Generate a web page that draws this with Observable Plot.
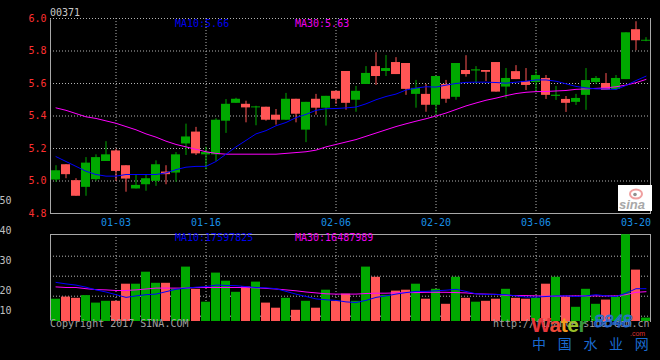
<!DOCTYPE html>
<html>
<head>
<meta charset="utf-8">
<script src="https://cdn.jsdelivr.net/npm/d3@7"></script>
<script src="https://cdn.jsdelivr.net/npm/@observablehq/plot@0.6"></script>
<style>
  html, body { margin: 0; padding: 0; background: #000; }
  #wrap { position: relative; width: 660px; height: 360px; background: #000; overflow: hidden; }
  #wrap svg { position: absolute; left: 0; top: 0; }
</style>
</head>
<body>
<div id="wrap"></div>
<script>
// ---------- data ----------
const dates = [
  "2016-12-21","2016-12-22","2016-12-23","2016-12-28","2016-12-29","2016-12-30",
  "2017-01-03","2017-01-04","2017-01-05","2017-01-06","2017-01-09","2017-01-10",
  "2017-01-11","2017-01-12","2017-01-13","2017-01-16","2017-01-17","2017-01-18",
  "2017-01-19","2017-01-20","2017-01-23","2017-01-24","2017-01-25","2017-01-26",
  "2017-01-27","2017-02-01","2017-02-02","2017-02-03","2017-02-06","2017-02-07",
  "2017-02-08","2017-02-09","2017-02-10","2017-02-13","2017-02-14","2017-02-15",
  "2017-02-16","2017-02-17","2017-02-20","2017-02-21","2017-02-22","2017-02-23",
  "2017-02-24","2017-02-27","2017-02-28","2017-03-01","2017-03-02","2017-03-03",
  "2017-03-06","2017-03-07","2017-03-08","2017-03-09","2017-03-10","2017-03-13",
  "2017-03-14","2017-03-15","2017-03-16","2017-03-17","2017-03-20","2017-03-21"
];
const open = [
  5.063,5.039,4.906,5.110,5.144,5.161,5.059,5.012,4.973,5.014,
  5.100,5.039,5.161,5.271,5.167,5.175,5.374,5.472,5.503,5.450,
  5.456,5.374,5.374,5.503,5.411,5.484,5.448,5.521,5.503,5.478,
  5.552,5.662,5.643,5.692,5.655,5.564,5.570,5.466,5.643,5.503,
  5.723,5.655,5.684,5.669,5.547,5.631,5.624,5.588,5.649,5.527,
  5.528,5.478,5.508,5.618,5.631,5.557,5.631,5.912,5.863,5.866
];
const close = [
  5.006,5.100,5.002,4.961,5.008,5.120,5.185,5.094,4.951,4.977,
  4.998,5.055,5.049,5.228,5.301,5.161,5.161,5.368,5.478,5.472,
  5.450,5.454,5.405,5.374,5.503,5.313,5.503,5.448,5.552,5.674,
  5.497,5.594,5.704,5.674,5.729,5.723,5.533,5.533,5.466,5.594,
  5.515,5.680,5.677,5.680,5.729,5.578,5.673,5.612,5.606,5.631,
  5.521,5.502,5.484,5.527,5.606,5.600,5.563,5.624,5.931,5.860
];
const high = [
  5.094,5.100,5.014,5.144,5.161,5.242,5.195,5.094,5.034,5.034,
  5.124,5.094,5.175,5.350,5.330,5.208,5.383,5.501,5.509,5.491,
  5.460,5.454,5.440,5.539,5.503,5.484,5.533,5.521,5.552,5.674,
  5.582,5.704,5.790,5.772,5.759,5.723,5.619,5.594,5.643,5.619,
  5.723,5.771,5.704,5.680,5.729,5.692,5.710,5.692,5.680,5.649,
  5.582,5.520,5.533,5.692,5.643,5.661,5.649,5.912,5.980,5.882
];
const low = [
  4.992,5.014,4.906,4.906,4.998,5.120,4.998,4.931,4.951,4.937,
  4.967,4.977,4.992,5.157,5.157,5.069,5.120,5.293,5.478,5.358,
  5.340,5.368,5.344,5.374,5.358,5.236,5.405,5.338,5.472,5.436,
  5.423,5.594,5.588,5.643,5.655,5.527,5.448,5.423,5.411,5.478,
  5.497,5.639,5.598,5.612,5.547,5.506,5.624,5.557,5.551,5.502,
  5.496,5.422,5.465,5.435,5.594,5.557,5.557,5.624,5.802,5.857
];
const ma10 = [
  5.15,5.12,5.09,5.06,5.04,5.03,5.03,5.04,5.04,5.04,
  5.04,5.05,5.07,5.085,5.09,5.09,5.12,5.165,5.21,5.25,
  5.29,5.31,5.34,5.36,5.39,5.41,5.435,5.445,5.446,5.45,
  5.455,5.475,5.50,5.52,5.535,5.56,5.572,5.58,5.578,5.59,
  5.60,5.607,5.608,5.608,5.606,5.602,5.608,5.614,5.622,5.622,
  5.614,5.598,5.582,5.573,5.567,5.566,5.563,5.588,5.618,5.645
];
const ma30 = [
  5.45,5.435,5.415,5.395,5.385,5.37,5.355,5.335,5.315,5.29,
  5.27,5.245,5.225,5.21,5.195,5.18,5.17,5.165,5.165,5.165,
  5.165,5.165,5.165,5.17,5.175,5.18,5.19,5.21,5.225,5.24,
  5.255,5.275,5.295,5.315,5.335,5.352,5.368,5.383,5.40,5.418,
  5.44,5.462,5.48,5.497,5.51,5.525,5.538,5.546,5.55,5.551,
  5.554,5.557,5.564,5.567,5.57,5.573,5.58,5.59,5.605,5.625
];
const volume = [
  17.1,17.8,17.4,18.3,15.8,16.4,16.4,22.1,22.1,26.1,
  22.4,22.4,20.4,27.8,20.4,16.1,25.8,23.1,19.4,21.2,
  22.8,15.8,14.1,17.4,13.4,16.4,14.1,20.1,16.4,18.8,
  16.4,27.8,24.4,18.4,19.8,20.1,22.1,17.1,20.4,15.4,
  24.4,17.4,16.1,16.4,17.1,20.4,17.4,17.1,17.4,22.1,
  24.4,17.8,14.4,20.4,15.4,16.8,17.8,38.6,26.8,10.8
];
const volMA10 = [
  22.7,22.2,21.8,21.1,20.2,19.5,18.6,17.7,18.2,18.6,
  18.8,19.6,20.4,20.8,21.1,21.3,21.8,21.7,21.6,21.3,
  21.0,20.9,20.6,19.7,18.8,18.0,17.2,16.9,16.7,16.2,
  16.0,16.7,17.7,18.2,18.8,19.3,19.7,19.7,19.9,20.1,
  20.4,19.7,18.9,18.7,18.7,18.6,18.2,17.8,17.8,18.0,
  18.2,18.2,18.0,18.2,18.6,18.2,18.0,19.1,20.6,20.6
];
const volMA30 = [
  21.2,21.0,21.0,20.6,20.3,20.2,20.0,20.0,20.2,20.5,
  20.8,20.8,20.8,20.8,21.0,21.0,21.0,21.0,21.0,21.0,
  20.9,20.7,20.5,20.2,19.9,19.5,19.2,18.9,18.8,18.8,
  18.8,19.0,19.1,19.1,19.2,19.3,19.3,19.4,19.4,19.4,
  19.3,19.2,18.9,18.8,18.7,18.4,18.3,18.3,18.2,18.1,
  18.1,18.2,18.2,18.2,18.2,18.2,18.2,18.6,19.4,19.6
];
const tickDates = ["2017-01-03","2017-01-16","2017-02-06","2017-02-20","2017-03-06","2017-03-20"];
const gridDates = ["2017-01-03","2017-01-16","2017-02-06","2017-02-20","2017-03-06"];
const priceTicks = [4.8, 5.0, 5.2, 5.4, 5.6, 5.8, 6.0];
const priceGrid = [5.0, 5.2, 5.4, 5.6, 5.8, 6.0];
const volTicks = [20, 30, 40, 50];
const volLowTick = [10];
const stockCode = "00371";
const priceMALabels = ["MA10:5.66", "MA30:5.63"];
const volMALabels = ["MA10:17597825", "MA30:16487989"];
const copyrightText = "Copyright 2017 SINA.COM";
const urlText = "http://finance.sina.com.cn";

// ---------- build ----------
const UP = "#ff5555", DOWN = "#00a800", GRID = "#b4b4b4", BORDER = "#a8a8a8";
const MONO = "DejaVu Sans Mono, monospace";
const rows = dates.map((d, i) => ({
  date: d, open: open[i], close: close[i], high: high[i], low: low[i],
  ma10: ma10[i], ma30: ma30[i], vol: volume[i], vma10: volMA10[i], vma30: volMA30[i],
  up: close[i] >= open[i]
}));
const colorOf = d => d.up ? UP : DOWN;
const xScale = {type: "band", domain: dates, paddingInner: 0.1, paddingOuter: 0.05};
const baseStyle = {background: "transparent", color: "#c0c0c0", fontFamily: MONO, fontSize: "10px", overflow: "visible"};

const pricePlot = Plot.plot({
  width: 660, height: 360,
  marginTop: 18, marginBottom: 147, marginLeft: 50, marginRight: 10,
  style: baseStyle,
  x: xScale,
  y: {domain: [4.8, 6.0]},
  marks: [
    Plot.frame({stroke: BORDER}),
    Plot.ruleY([6.0], {stroke: "#000", strokeWidth: 1.5}),
    Plot.ruleY(priceGrid, {stroke: GRID, strokeDasharray: "1,2"}),
    Plot.ruleX(gridDates, {stroke: GRID, strokeDasharray: "1,2"}),
    Plot.ruleX(rows, {x: "date", y1: "low", y2: "high", stroke: colorOf, strokeWidth: 1}),
    Plot.barY(rows, {x: "date", y1: "open", y2: "close", fill: colorOf}),
    Plot.lineY(rows, {x: "date", y: "ma30", stroke: "#ff00ff", strokeWidth: 1}),
    Plot.lineY(rows, {x: "date", y: "ma10", stroke: "#0000ff", strokeWidth: 1}),
    Plot.axisY({ticks: priceTicks, tickSize: 0, tickPadding: 4, tickFormat: d => d.toFixed(1),
      fill: "#ff3030", fontFamily: MONO, fontSize: 10, label: null}),
    Plot.axisX({ticks: tickDates, tickSize: 0, tickPadding: 5, tickFormat: d => d.slice(5),
      fill: "#1890e8", fontFamily: MONO, fontSize: 10, label: null})
  ]
});

const volLo = (350 - 321) / 3, volHi = (350 - 234) / 3;
const volGrid = d3.range(4).map(k => volHi - (21.7 + 20 * k) / 3);

const volPlot = Plot.plot({
  width: 660, height: 360,
  marginTop: 234, marginBottom: 39, marginLeft: 50, marginRight: 10,
  style: baseStyle,
  x: xScale,
  y: {domain: [volLo, volHi]},
  marks: [
    Plot.frame({stroke: BORDER}),
    Plot.ruleY([volLo], {stroke: "#000", strokeWidth: 2}),
    Plot.ruleY(volGrid, {stroke: GRID, strokeDasharray: "1,2"}),
    Plot.ruleX(gridDates, {stroke: GRID, strokeDasharray: "1,2"}),
    Plot.barY(rows, {x: "date", y1: volLo, y2: "vol", fill: colorOf}),
    Plot.lineY(rows, {x: "date", y: "vma30", stroke: "#ff00ff", strokeWidth: 1}),
    Plot.lineY(rows, {x: "date", y: "vma10", stroke: "#0000ff", strokeWidth: 1}),
    Plot.axisY({ticks: volTicks, tickSize: 0, tickPadding: 39, tickFormat: d => String(d),
      fill: "#c0c0c0", fontFamily: MONO, fontSize: 10, label: null}),
    Plot.axisY({ticks: volLowTick, tickSize: 0, tickPadding: 39, dy: -10, tickFormat: d => String(d),
      fill: "#c0c0c0", fontFamily: MONO, fontSize: 10, label: null}),
    Plot.axisX({ticks: [], label: null})
  ]
});

const wrap = document.getElementById("wrap");
wrap.appendChild(pricePlot);
wrap.appendChild(volPlot);

// ---------- text overlay ----------
const NS = "http://www.w3.org/2000/svg";
const ov = document.createElementNS(NS, "svg");
ov.setAttribute("width", 660); ov.setAttribute("height", 360);
function txt(x, y, s, attrs) {
  const t = document.createElementNS(NS, "text");
  t.setAttribute("x", x); t.setAttribute("y", y);
  t.setAttribute("font-family", MONO); t.setAttribute("font-size", 10);
  for (const k in attrs) t.setAttribute(k, attrs[k]);
  t.textContent = s;
  ov.appendChild(t);
  return t;
}
txt(50, 16, stockCode, {fill: "#c8c8c8"});
txt(175, 27, priceMALabels[0], {fill: "#0000ee"});
txt(295, 27, priceMALabels[1], {fill: "#ee00ee"});
txt(175, 241, volMALabels[0], {fill: "#0000ee"});
txt(295, 241, volMALabels[1], {fill: "#ee00ee"});
txt(50, 327, copyrightText, {fill: "#a0a0a0"});
txt(493, 327, urlText, {fill: "#a0a0a0"});

// sina logo box
const box = document.createElementNS(NS, "rect");
box.setAttribute("x", 618); box.setAttribute("y", 185); box.setAttribute("width", 34); box.setAttribute("height", 26);
box.setAttribute("fill", "#ffffff");
ov.appendChild(box);
const eye = document.createElementNS(NS, "ellipse");
eye.setAttribute("cx", 636); eye.setAttribute("cy", 194); eye.setAttribute("rx", 6); eye.setAttribute("ry", 4.5);
eye.setAttribute("fill", "none"); eye.setAttribute("stroke", "#f0a0a0"); eye.setAttribute("stroke-width", 2);
ov.appendChild(eye);
const pupil = document.createElementNS(NS, "circle");
pupil.setAttribute("cx", 635); pupil.setAttribute("cy", 194.5); pupil.setAttribute("r", 1.8);
pupil.setAttribute("fill", "#909090");
ov.appendChild(pupil);
txt(619, 209, "sina", {fill: "#a8a8a8", "font-family": "Liberation Sans, Arial, sans-serif", "font-size": 13,
  "font-style": "italic", "font-weight": "bold"});

// water8848 logo
const w = txt(531, 332, "", {"font-family": "Liberation Sans, Arial, sans-serif", "font-size": 21, "font-weight": "bold",
  "letter-spacing": -0.5});
[["W", "#e8363c"], ["a", "#ee4a3a"], ["t", "#f29a1e"], ["e", "#9cc22a"], ["r", "#3a9a3e"]].forEach(([c, col]) => {
  const s = document.createElementNS(NS, "tspan");
  s.setAttribute("fill", col); s.textContent = c; w.appendChild(s);
});
txt(594, 327, "8848", {fill: "none", stroke: "#2a6fd6", "stroke-width": 1, "font-family": "Liberation Sans, Arial, sans-serif",
  "font-size": 17, "font-style": "italic"});
txt(630, 336, ".com", {fill: "#d83030", "font-family": "Liberation Sans, Arial, sans-serif", "font-size": 7});
txt(532, 349, "中国水业网", {fill: "#1a6ad0", "font-family": "Noto Sans CJK SC, sans-serif", "font-size": 14, "letter-spacing": 11.7});

wrap.appendChild(ov);
</script>
</body>
</html>
